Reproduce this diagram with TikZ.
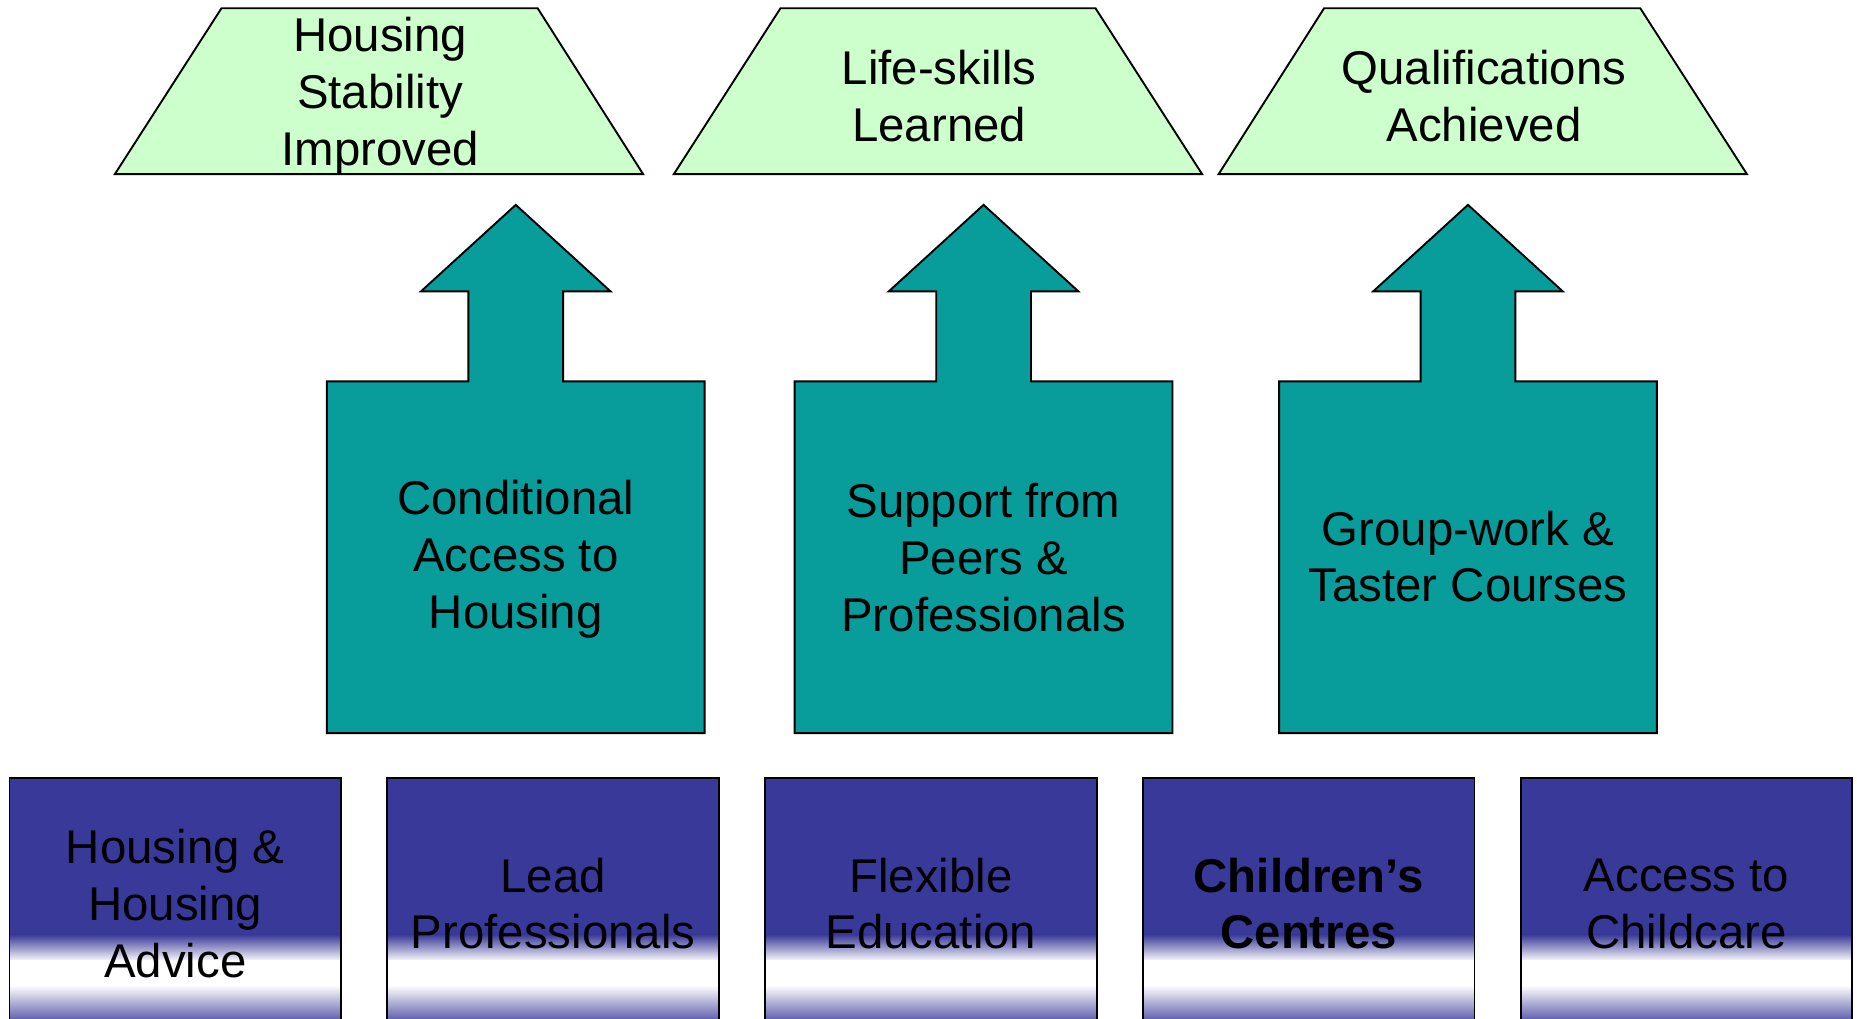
\documentclass[tikz,border=0pt]{standalone}
\usepackage{fontspec}
\setmainfont{Liberation Sans}
\definecolor{outgreen}{RGB}{204,255,204}
\definecolor{tealfill}{RGB}{8,156,154}
\definecolor{bluebox}{RGB}{57,57,153}
\tikzset{
  outline/.style={draw=black, line width=0.8pt, line join=miter},
  lbl/.style={align=center, font=\fontsize{20}{24}\selectfont, inner sep=0pt},
}
\begin{document}
\begin{tikzpicture}[x=0.5pt,y=-0.5pt]
\useasboundingbox (0,0) rectangle (1568,860);
% outcome trapezoids
\draw[outline, fill=outgreen] (187,7) -- (454,7) -- (543,147) -- (97,147) -- cycle;
\draw[outline, fill=outgreen] (659,7) -- (925,7) -- (1015,147) -- (569,147) -- cycle;
\draw[outline, fill=outgreen] (1118,7) -- (1385,7) -- (1475,147) -- (1029,147) -- cycle;
\node[lbl] (o1) at (321,81) {Housing\\Stability\\Improved};
\node[lbl] (o2) at (793,81) {Life-skills\\Learned};
\node[lbl] (o3) at (1253,81) {Qualifications\\Achieved};
% arrow callouts
\foreach \cx/\bl/\br in {435.5/276/595, 830.5/671/990, 1239.5/1080/1399}{
  \draw[outline, fill=tealfill] (\bl,619) -- (\bl,322) -- (\cx-40,322) -- (\cx-40,246)
    -- (\cx-80,246) -- (\cx,173) -- (\cx+80,246) -- (\cx+40,246) -- (\cx+40,322)
    -- (\br,322) -- (\br,619) -- cycle;
}
\node[lbl] (m1) at (435.5,472) {Conditional\\Access to\\Housing};
\node[lbl] (m2) at (830.5,471) {Support from\\Peers \&\\Professionals};
\node[lbl] (m3) at (1239.5,470) {Group-work \&\\Taster Courses};
% bottom boxes
\foreach \xl in {8,327,646,965,1284}{
  \fill[bluebox] (\xl,657) rectangle (\xl+280,790);
  \fill[top color=bluebox, bottom color=white] (\xl,789) rectangle (\xl+280,812);
  \fill[white] (\xl,811) rectangle (\xl+280,833);
  \fill[top color=white, bottom color=bluebox] (\xl,832) rectangle (\xl+280,868);
  \draw[outline] (\xl,880) -- (\xl,657) -- (\xl+280,657) -- (\xl+280,880);
}
\node[lbl] (b1) at (148,763) {Housing \&\\Housing\\Advice};
\node[lbl] (b2) at (467,763) {Lead\\Professionals};
\node[lbl] (b3) at (786,763) {Flexible\\Education};
\node[lbl, font=\fontsize{20}{24}\selectfont\bfseries] (b4) at (1105,763) {Children’s\\Centres};
\node[lbl] (b5) at (1424,763) {Access to\\Childcare};
\end{tikzpicture}
\end{document}
